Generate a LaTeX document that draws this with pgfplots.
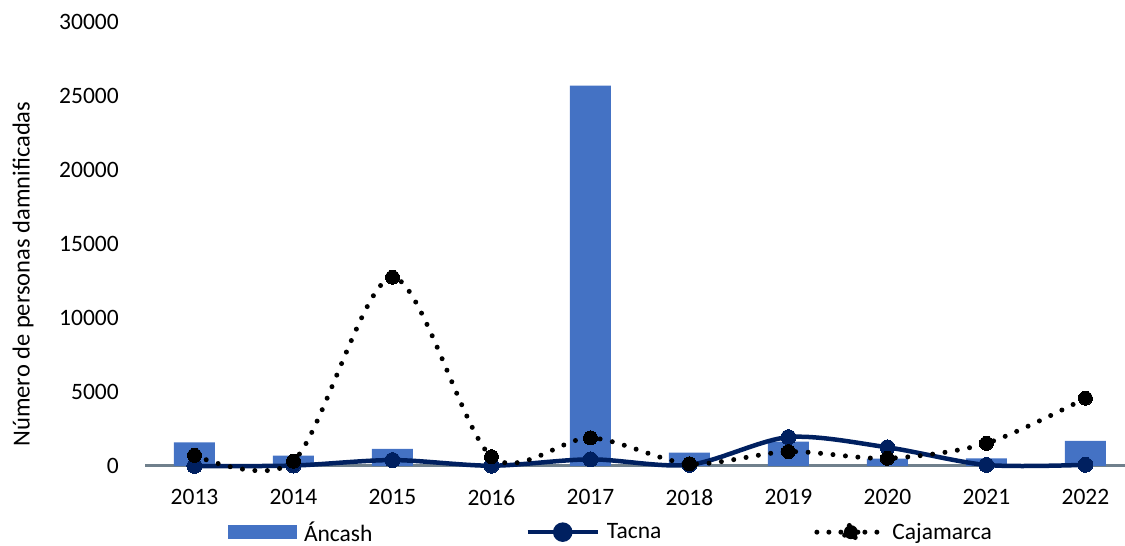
\documentclass[border=0pt]{standalone}
\usepackage{pgfplots}
\pgfplotsset{compat=1.18}
\usepackage{fontspec}
\setmainfont{Carlito}
\definecolor{barblue}{RGB}{68,114,196}
\definecolor{tacna}{RGB}{0,32,96}
\definecolor{axgray}{RGB}{112,128,140}
\newcommand{\cfont}{\fontsize{23.5}{28}\selectfont}
\begin{document}
\begin{tikzpicture}
\path[use as bounding box] (0,0) rectangle (1125pt,546pt);
\begin{axis}[
  at={(145pt,80pt)}, anchor=south west, scale only axis,
  width=980pt, height=444pt,
  xmin=-0.5, xmax=9.4, ymin=0, ymax=30000, clip=false,
  axis x line*=bottom, axis y line*=left,
  x axis line style={draw=axgray, line width=3pt},
  y axis line style={draw=none},
  xtick={0,1,2,3,4,5,6,7,8,9},
  xticklabels={2013,2014,2015,2016,2017,2018,2019,2020,2021,2022},
  ytick={0,5000,10000,15000,20000,25000,30000},
  scaled y ticks=false,
  yticklabel style={/pgf/number format/1000 sep={}, anchor=east, inner sep=0pt, xshift=-26pt},
  xticklabel style={anchor=north, inner sep=0pt, yshift=-23pt},
  tick style={draw=none},
  /pgf/number format/assume math mode=true,
  tick label style={font=\cfont},
  ylabel={Número de personas damnificadas},
  ylabel style={at={(axis description cs:-0.1245,0.432)}, anchor=center, font=\fontsize{24.5}{29}\selectfont},
  legend columns=3,
  legend style={at={(axis description cs:0.0847,-0.149)}, anchor=west,
    draw=none, fill=none, inner sep=0pt, outer sep=0pt, font=\cfont,
    nodes={inner sep=0pt},
    /tikz/every odd column/.append style={column sep=7pt},
    /tikz/every even column/.append style={column sep=153pt}},
]
\addplot[ybar, bar width=41pt, fill=barblue, draw=none,
  legend image code/.code={\fill[barblue] (0pt,-7pt) rectangle (69pt,7pt);}]
  coordinates {(0,1600)(1,700)(2,1150)(3,0)(4,25700)(5,900)(6,1650)(7,500)(8,520)(9,1700)};
\addlegendentry{Áncash}
\addplot[tacna, line width=4.5pt, smooth, mark=*, mark size=7.5pt,
  mark options={fill=tacna, draw=tacna, line width=0pt},
  legend image code/.code={\draw[tacna, line width=4.5pt] (0pt,0pt)--(70pt,0pt); \fill[tacna] (35pt,0pt) circle (7.5pt);}]
  coordinates {(0,0)(1,30)(2,400)(3,20)(4,450)(5,80)(6,1950)(7,1260)(8,70)(9,80)};
\addlegendentry{Tacna}
\addplot[black, line width=5pt, line cap=round, dash pattern=on 0pt off 12.5pt, smooth,
  mark=*, mark size=7pt, mark options={solid, fill=black, draw=black, line width=0pt},
  legend image code/.code={\draw[black, line width=5pt, line cap=round, dash pattern=on 0pt off 12pt] (2pt,0pt)--(68pt,0pt); \fill[black] (36pt,0pt) circle (7pt);}]
  coordinates {(0,720)(1,330)(2,12750)(3,630)(4,1900)(5,150)(6,970)(7,520)(8,1530)(9,4580)};
\addlegendentry{Cajamarca}
\end{axis}
\end{tikzpicture}
\end{document}
